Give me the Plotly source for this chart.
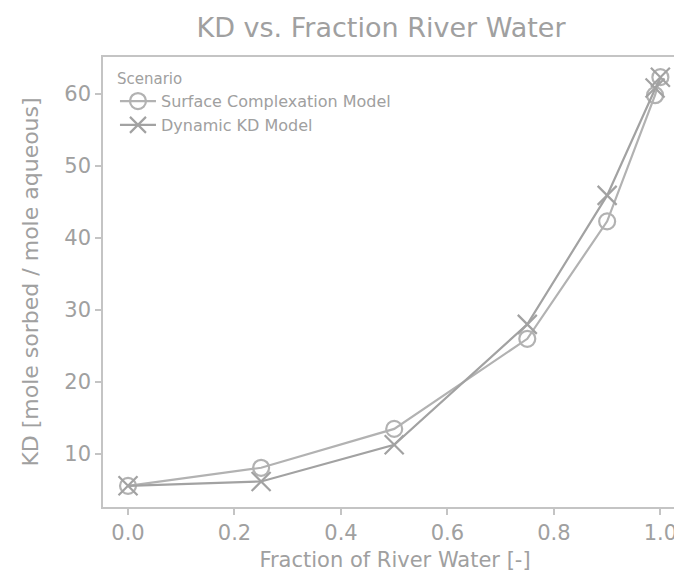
import plotly.graph_objects as go

# Fraction of river water in the mixture
fraction = [0.0, 0.25, 0.5, 0.75, 0.9, 0.99, 1.0]

# KD values for each scenario
kd_surface_complexation = [5.6, 8.1, 13.5, 26.0, 42.3, 59.8, 62.3]
kd_dynamic = [5.6, 6.2, 11.3, 28.0, 45.9, 60.8, 62.3]

series_names = ["Surface Complexation Model", "Dynamic KD Model"]
y_ticks = [10, 20, 30, 40, 50, 60]
x_ticks = [0.0, 0.2, 0.4, 0.6, 0.8, 1.0]

FONT = "DejaVu Sans"
TEXT = "#a0a0a0"
AXIS = "#c4c4c4"

fig = go.Figure()
fig.add_trace(go.Scatter(
    x=fraction, y=kd_surface_complexation, name=series_names[0],
    mode="lines+markers",
    line=dict(color="#b2b2b2", width=2.2),
    marker=dict(symbol="circle-open", size=16, color="#b2b2b2",
                line=dict(width=2.2, color="#b2b2b2")),
))
fig.add_trace(go.Scatter(
    x=fraction, y=kd_dynamic, name=series_names[1],
    mode="lines+markers",
    line=dict(color="#a2a2a2", width=2.2),
    marker=dict(symbol="x-thin-open", size=19, color="#a2a2a2",
                line=dict(width=2.2, color="#a2a2a2")),
))

# The axes span 103..687 px; the page is 674 px wide, so the right end is cut
fig.update_layout(
    width=690, height=572,
    margin=dict(l=103, r=3, t=57, b=65),
    paper_bgcolor="white", plot_bgcolor="white",
    font=dict(family=FONT, color=TEXT),
    title=dict(text="KD vs. Fraction River Water", font=dict(size=27, color=TEXT),
               x=381 / 690, xanchor="center", xref="container",
               y=1 - 28 / 572, yanchor="middle", yref="container"),
    legend=dict(
        title=dict(text="Scenario", font=dict(size=15, color=TEXT)),
        font=dict(size=16, color=TEXT),
        x=0.0205, y=0.983, xanchor="left", yanchor="top",
        bgcolor="rgba(255,255,255,0)", borderwidth=0, tracegroupgap=0,
        itemwidth=36,
    ),
    showlegend=True,
)

fig.update_xaxes(
    range=[-0.047, 1.05], tickvals=x_ticks, ticktext=[f"{v:.1f}" for v in x_ticks],
    showgrid=False, zeroline=False,
    showline=True, linecolor=AXIS, linewidth=1.5, mirror=True,
    ticks="outside", ticklen=6, tickcolor=AXIS, tickwidth=1.5,
    tickfont=dict(size=21, color=TEXT),
    title=dict(text="Fraction of River Water [-]", font=dict(size=21, color=TEXT), standoff=9),
    automargin=False,
)
fig.update_yaxes(
    range=[2.66, 65.1], tickvals=y_ticks,
    showgrid=False, zeroline=False,
    showline=True, linecolor=AXIS, linewidth=1.5, mirror=True,
    ticks="outside", ticklen=6, tickcolor=AXIS, tickwidth=1.5,
    tickfont=dict(size=21, color=TEXT),
    title=dict(text="KD [mole sorbed / mole aqueous]", font=dict(size=22, color=TEXT), standoff=20),
    automargin=False,
)

fig.write_html("out.html", config={"displayModeBar": False})
